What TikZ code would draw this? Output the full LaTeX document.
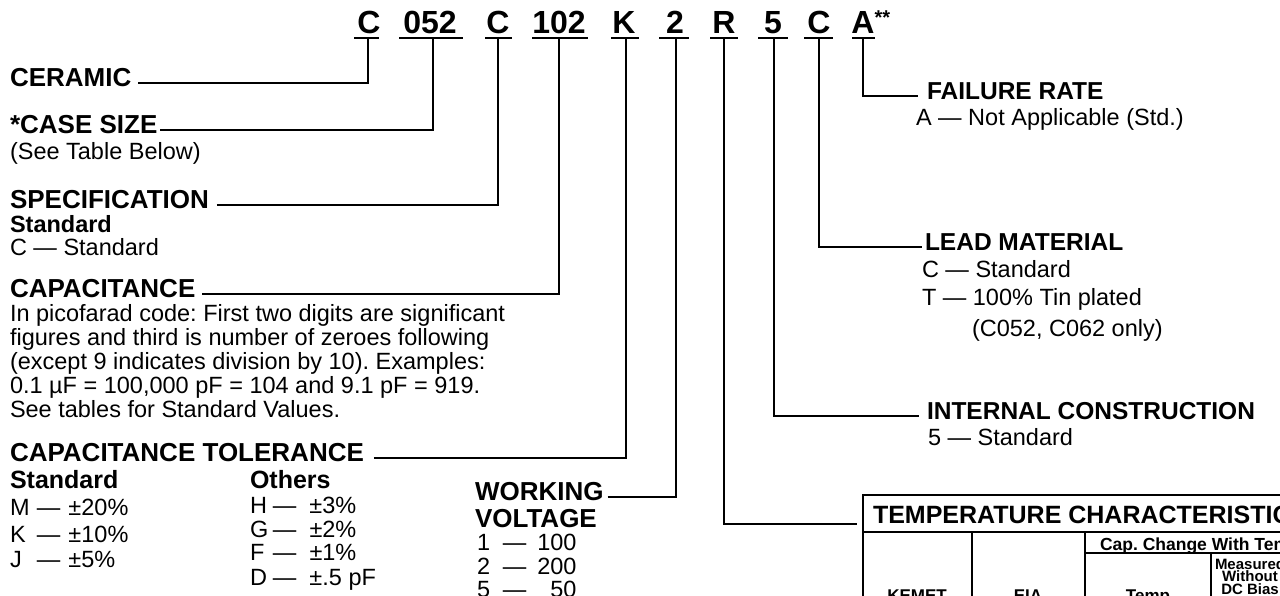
\documentclass[tikz,border=0pt]{standalone}
\usepackage{fontspec}
\setmainfont{Liberation Sans}
\frenchspacing
\begin{document}
\begin{tikzpicture}[x=1pt,y=-1pt,line width=2pt,
  every node/.style={inner sep=0pt,outer sep=0pt},
  code/.style={font=\fontsize{32}{32}\selectfont\bfseries,anchor=base},
  head/.style={font=\fontsize{26}{26}\selectfont\bfseries,anchor=base west},
  rhead/.style={font=\fontsize{24.5}{24.5}\selectfont\bfseries,anchor=base west},
  sub/.style={font=\fontsize{23.5}{23.5}\selectfont\bfseries,anchor=base west},
  subb/.style={font=\fontsize{25}{25}\selectfont\bfseries,anchor=base west},
  txt/.style={font=\fontsize{23.5}{24}\selectfont,anchor=base west,align=left},
  ttl/.style={font=\fontsize{25}{25}\selectfont\bfseries,anchor=base west},
  cell/.style={font=\fontsize{17}{17}\selectfont\bfseries,anchor=base},
  wire/.style={line width=2pt}]
\useasboundingbox (0,0) rectangle (1280,595);
\clip (0,0) rectangle (1280,595);

% code letters
\node[code] (cC1) at (369,33) {C};
\node[code] (c052) at (430,33) {052};
\node[code] (cC2) at (498,33) {C};
\node[code] (c102) at (559,33) {102};
\node[code] (cK) at (624,33) {K};
\node[code] (c2) at (675,33) {2};
\node[code] (cR) at (724,33) {R};
\node[code] (c5) at (773,33) {5};
\node[code] (cC3) at (819,33) {C};
\node[code] (cA) at (863,33) {A\rlap{\fontsize{20}{20}\selectfont\raisebox{8.5pt}{**}}};

% underlines
\draw[wire] (354,38) -- (379,38);
\draw[wire] (399,38) -- (463,38);
\draw[wire] (485,38) -- (512,38);
\draw[wire] (532,38) -- (588,38);
\draw[wire] (611,38) -- (639,38);
\draw[wire] (659,38) -- (689,38);
\draw[wire] (710,38) -- (738,38);
\draw[wire] (758,38) -- (788,38);
\draw[wire] (804,38) -- (833,38);
\draw[wire] (852,38) -- (875,38);

\coordinate (uC1) at (368,38);
\coordinate (u052) at (433,38);
\coordinate (uC2) at (498,38);
\coordinate (u102) at (559,38);
\coordinate (uK) at (626,38);
\coordinate (u2) at (676,38);
\coordinate (uR) at (724,38);
\coordinate (u5) at (774,38);
\coordinate (uC3) at (819,38);
\coordinate (uA) at (863,38);

% left labels
\node[head] (ceramic) at (10,86) {CERAMIC};
\node[head] (case) at (10,133) {*CASE SIZE};
\node[txt] (casetxt) at (10,159) {(See Table Below)};
\node[head] (spec) at (10,208) {SPECIFICATION};
\node[sub] (specstd) at (10,232) {Standard};
\node[txt] (spectxt) at (10,255) {C — Standard};
\node[head] (cap) at (10,297) {CAPACITANCE};
\node[txt] (captxt) at (10,417) {In picofarad code: First two digits are significant\\
figures and third is number of zeroes following\\
(except 9 indicates division by 10). Examples:\\
0.1 µF = 100,000 pF = 104 and 9.1 pF = 919.\\
See tables for Standard Values.};
\node[head] (tol) at (10,461) {CAPACITANCE TOLERANCE};
\node[subb] (tolstd) at (10,488) {Standard};
\node[txt] (tolM) at (10,515) {\makebox[27pt][l]{M}—\hspace{8pt}±20\%};
\node[txt] (tolK) at (10,542) {\makebox[27pt][l]{K}—\hspace{8pt}±10\%};
\node[txt] (tolJ) at (10,567) {\makebox[27pt][l]{J}—\hspace{8pt}±5\%};
\node[subb] (toloth) at (250,488) {Others};
\node[txt] (tolH) at (250,513) {\makebox[23pt][l]{H}—\hspace{13pt}±3\%};
\node[txt] (tolG) at (250,537) {\makebox[23pt][l]{G}—\hspace{13pt}±2\%};
\node[txt] (tolF) at (250,560) {\makebox[23pt][l]{F}—\hspace{13pt}±1\%};
\node[txt] (tolD) at (250,585) {\makebox[23pt][l]{D}—\hspace{13pt}±.5 pF};
\node[head] (work) at (475,500) {WORKING};
\node[head] (volt) at (475,527) {VOLTAGE};
\node[txt] (v1) at (477,550) {\makebox[26pt][l]{1}—\makebox[50pt][r]{100}};
\node[txt] (v2) at (477,574) {\makebox[26pt][l]{2}—\makebox[50pt][r]{200}};
\node[txt] (v5) at (477,597) {\makebox[26pt][l]{5}—\makebox[50pt][r]{50}};

% right labels
\node[rhead] (fail) at (927,99) {FAILURE RATE};
\node[txt] (failtxt) at (916,125) {A — Not Applicable (Std.)};
\node[rhead] (lead) at (925,250) {LEAD MATERIAL};
\node[txt] (leadC) at (922,277) {C — Standard};
\node[txt] (leadT) at (922,305) {T — 100\% Tin plated};
\node[txt] (leadN) at (972,336) {(C052, C062 only)};
\node[rhead] (intc) at (927,419) {INTERNAL CONSTRUCTION};
\node[txt] (inttxt) at (928,445) {5 — Standard};

% table (cut off by the frame)
\draw[wire] (863,495) rectangle (1320,660);
\draw[wire] (863,532) -- (1320,532);
\draw[wire] (972,532) -- (972,660);
\draw[wire] (1085,532) -- (1085,660);
\draw[wire] (1211,553) -- (1211,660);
\draw[wire] (1085,553) -- (1320,553);
\node[ttl] (tabttl) at (873,523) {TEMPERATURE CHARACTERISTIC};
\node[font=\fontsize{17.5}{17.5}\selectfont\bfseries,anchor=base west] (tabcap) at (1100,550) {Cap. Change With Temp.};
\node[font=\fontsize{15}{12.5}\selectfont\bfseries,anchor=base,align=center] (tabmeas) at (1250,594) {Measured\\Without\\DC Bias};
\node[cell] (tabkem) at (917,601) {KEMET};
\node[cell] (tabeia) at (1028,601) {EIA};
\node[cell] (tabtmp) at (1148,601) {Temp};
\coordinate (tabL) at (857,524);

% connectors
\draw[wire] ([xshift=7pt]ceramic.mid east) -| (uC1);
\draw[wire] ([xshift=3pt]case.mid east) -| (u052);
\draw[wire] ([xshift=8pt]spec.mid east) -| (uC2);
\draw[wire] ([xshift=7pt]cap.mid east) -| (u102);
\draw[wire] ([xshift=10pt]tol.mid east) -| (uK);
\draw[wire] ([xshift=4pt]work.mid east) -| (u2);
\draw[wire] (uR) |- (tabL);
\draw[wire] (u5) |- ([xshift=-8pt]intc.mid west);
\draw[wire] (uC3) |- ([xshift=-3pt]lead.mid west);
\draw[wire] (uA) |- ([xshift=-9pt]fail.mid west);
\end{tikzpicture}
\end{document}
